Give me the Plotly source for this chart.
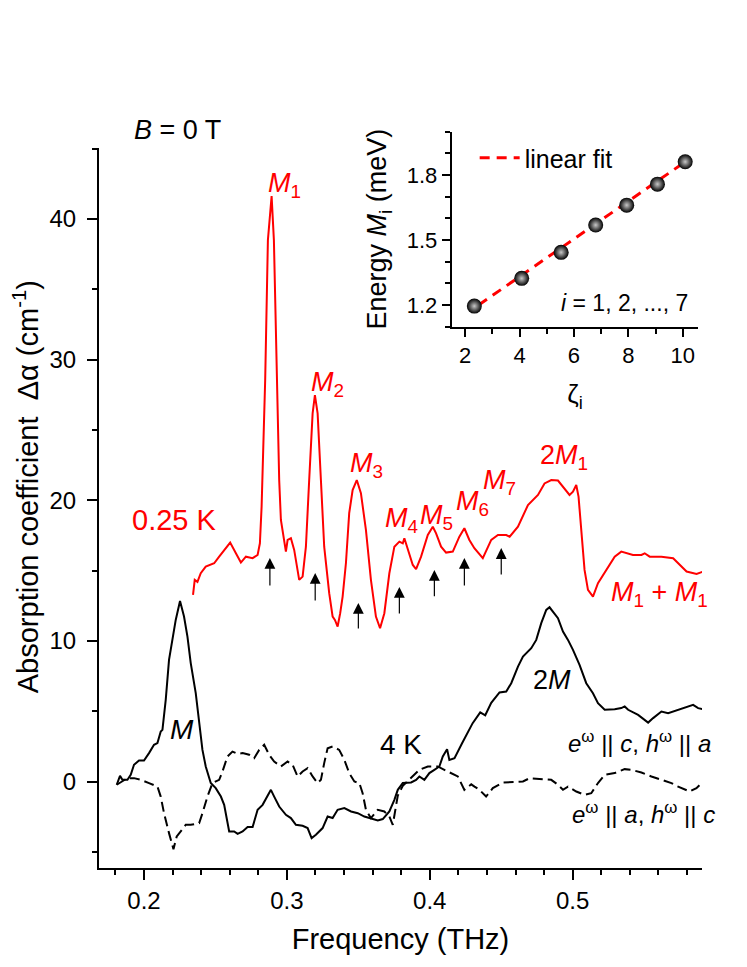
import plotly.graph_objects as go

# ---------------- data ----------------
red_x = [0.2343, 0.2355, 0.2374, 0.2397, 0.2432, 0.2491, 0.2526, 0.2561, 0.2603, 0.2643,
         0.2678, 0.2713, 0.2760, 0.2795, 0.2811, 0.2823, 0.2837, 0.2848, 0.2867, 0.2893,
         0.2909, 0.2928, 0.2946, 0.2958, 0.2981, 0.2993, 0.3005, 0.3028, 0.3051, 0.3063,
         0.3086, 0.3110, 0.3133, 0.3156, 0.3180, 0.3196, 0.3215, 0.3238, 0.3261, 0.3296,
         0.3320, 0.3336, 0.3355, 0.3373, 0.3390, 0.3413, 0.3436, 0.3460, 0.3489, 0.3518,
         0.3553, 0.3588, 0.3623, 0.3652, 0.3682, 0.3717, 0.3752, 0.3787, 0.3811, 0.3822,
         0.3846, 0.3881, 0.3904, 0.3939, 0.3986, 0.4021, 0.4044, 0.4079, 0.4114, 0.4161,
         0.4207, 0.4242, 0.4277, 0.4312, 0.4371, 0.4430, 0.4477, 0.4535, 0.4559, 0.4617,
         0.4687, 0.4757, 0.4803, 0.4850, 0.4897, 0.4943, 0.4978, 0.5002, 0.5025, 0.5041,
         0.5060, 0.5083, 0.5107, 0.5142, 0.5177, 0.5235, 0.5294, 0.5340, 0.5422, 0.5481,
         0.5504, 0.5539, 0.5621, 0.5703, 0.5762, 0.5797, 0.5867, 0.5913]
red_y = [13.27, 14.34, 14.20, 14.81, 15.28, 15.52, 15.99, 16.47, 16.99, 16.23,
         15.57, 15.99, 15.88, 16.11, 16.94, 19.55, 23.81, 28.55, 38.50, 41.63,
         38.50, 28.55, 21.44, 18.60, 16.94, 16.35, 17.18, 17.30, 16.47, 15.76,
         14.34, 14.57, 16.70, 21.44, 26.18, 27.48, 26.18, 21.44, 16.70, 13.39,
         11.73, 11.49, 11.02, 11.97, 13.15, 15.52, 19.08, 20.73, 21.44, 20.50,
         17.89, 14.34, 11.73, 10.90, 11.97, 14.81, 16.70, 17.06, 16.94, 17.30,
         16.47, 15.40, 15.10, 15.99, 17.53, 18.12, 17.65, 16.70, 16.28, 16.35,
         17.41, 18.01, 17.18, 16.59, 15.88, 17.18, 17.53, 17.53, 17.41, 18.12,
         19.66, 20.38, 21.20, 21.44, 21.40, 20.85, 20.38, 20.61, 21.09, 20.26,
         17.89, 15.05, 13.63, 13.15, 14.10, 15.05, 15.99, 16.35, 16.11, 16.11,
         16.23, 15.99, 15.99, 15.88, 15.28, 14.93, 14.76, 14.93]

ec_x = [0.1809, 0.1832, 0.1849, 0.1884, 0.1907, 0.1930, 0.1965, 0.2000, 0.2035, 0.2070,
        0.2094, 0.2117, 0.2129, 0.2152, 0.2175, 0.2199, 0.2222, 0.2252, 0.2280, 0.2304,
        0.2327, 0.2362, 0.2386, 0.2409, 0.2432, 0.2467, 0.2502, 0.2538, 0.2561, 0.2584,
        0.2596, 0.2631, 0.2655, 0.2690, 0.2725, 0.2760, 0.2795, 0.2830, 0.2865, 0.2888,
        0.2911, 0.2946, 0.2993, 0.3028, 0.3063, 0.3110, 0.3145, 0.3173, 0.3203, 0.3250,
        0.3285, 0.3320, 0.3355, 0.3402, 0.3449, 0.3496, 0.3542, 0.3577, 0.3636, 0.3671,
        0.3717, 0.3752, 0.3776, 0.3811, 0.3869, 0.3904, 0.3927, 0.3962, 0.3997, 0.4032,
        0.4067, 0.4091, 0.4121, 0.4137, 0.4173, 0.4225, 0.4300, 0.4353, 0.4388, 0.4430,
        0.4488, 0.4535, 0.4570, 0.4617, 0.4652, 0.4710, 0.4745, 0.4780, 0.4815, 0.4838,
        0.4873, 0.4897, 0.4932, 0.4967, 0.5002, 0.5048, 0.5095, 0.5142, 0.5177, 0.5224,
        0.5294, 0.5340, 0.5364, 0.5388, 0.5458, 0.5528, 0.5563, 0.5621, 0.5668, 0.5738,
        0.5785, 0.5843, 0.5878, 0.5913]
ec_y = [-0.23, 0.40, 0.12, 0.12, 0.48, 1.19, 1.49, 1.49, 2.02, 2.61,
        2.73, 3.55, 3.67, 5.81, 8.65, 10.07, 11.49, 12.84, 11.73, 10.31,
        8.42, 6.28, 4.15, 2.25, 1.07, -0.11, -0.47, -1.07, -1.66, -2.96,
        -3.55, -3.55, -3.72, -3.55, -3.24, -3.24, -2.01, -1.66, -0.95, -0.59,
        -1.07, -1.78, -2.37, -2.60, -3.08, -3.15, -3.31, -4.02, -3.79, -3.31,
        -2.49, -2.60, -2.01, -1.89, -2.13, -2.25, -2.49, -2.60, -2.77, -2.67,
        -2.13, -1.30, -0.59, -0.11, -0.07, 0.12, 0.36, 0.12, 0.60, 0.83,
        1.07, 1.78, 2.30, 1.54, 1.66, 2.70, 4.15, 4.92, 4.71, 5.60,
        6.33, 6.40, 6.99, 8.17, 8.88, 9.48, 10.07, 11.26, 12.20, 12.39,
        11.97, 11.61, 10.66, 10.07, 9.36, 8.29, 6.99, 6.28, 5.57, 5.10,
        5.14, 5.22, 5.34, 5.10, 4.74, 4.19, 4.51, 4.98, 4.86, 5.10,
        5.22, 5.45, 5.22, 5.14]

ea_x = [0.1809, 0.1884, 0.1930, 0.1977, 0.2035, 0.2094, 0.2117, 0.2140, 0.2175, 0.2206,
        0.2229, 0.2257, 0.2292, 0.2327, 0.2386, 0.2409, 0.2444, 0.2479, 0.2526, 0.2549,
        0.2584, 0.2619, 0.2655, 0.2690, 0.2736, 0.2771, 0.2806, 0.2841, 0.2876, 0.2911,
        0.2958, 0.3005, 0.3040, 0.3075, 0.3110, 0.3145, 0.3180, 0.3215, 0.3238, 0.3261,
        0.3285, 0.3320, 0.3366, 0.3402, 0.3436, 0.3472, 0.3507, 0.3530, 0.3553, 0.3588,
        0.3636, 0.3682, 0.3717, 0.3741, 0.3776, 0.3811, 0.3869, 0.3927, 0.3986, 0.4056,
        0.4102, 0.4149, 0.4196, 0.4242, 0.4290, 0.4313, 0.4348, 0.4394, 0.4441, 0.4512,
        0.4559, 0.4652, 0.4699, 0.4780, 0.4850, 0.4897, 0.4932, 0.4967, 0.5025, 0.5083,
        0.5130, 0.5177, 0.5224, 0.5294, 0.5364, 0.5411, 0.5481, 0.5551, 0.5621, 0.5691,
        0.5738, 0.5819, 0.5866, 0.5913]
ea_y = [-0.23, 0.24, 0.24, 0.12, -0.11, -0.36, -1.07, -2.25, -3.67, -4.81,
        -3.91, -3.55, -3.08, -3.08, -2.96, -2.25, -1.07, -0.11, 0.12, 0.71,
        1.78, 2.13, 1.97, 2.02, 1.90, 1.66, 2.25, 2.61, 1.90, 1.42,
        1.07, 1.42, 1.19, 0.36, 0.71, 0.95, 0.36, -0.11, 0.12, 1.31,
        2.37, 2.49, 2.25, 1.54, 0.60, 0.00, -0.11, -0.83, -2.01, -2.60,
        -2.01, -2.13, -2.49, -3.08, -1.00, -0.30, 0.30, 0.83, 1.07, 1.07,
        0.83, 0.60, 0.36, -0.59, -0.20, -0.36, -0.59, -1.07, -0.47, -0.07,
        -0.05, 0.00, 0.24, 0.17, 0.12, -0.23, -0.59, -0.36, -0.71, -0.95,
        -0.83, -0.11, 0.48, 0.60, 0.88, 0.83, 0.64, 0.36, 0.12, -0.11,
        -0.36, -0.71, -0.47, 0.00]

# arrows marking M_i positions (0.25 K spectrum)
arrow_x = [0.2881, 0.3198, 0.3500, 0.3787, 0.4032, 0.4242, 0.4500]
arrow_tip = [15.9, 14.83, 12.70, 13.84, 15.05, 15.9, 16.6]
arrow_tail = [13.84, 12.77, 10.78, 11.85, 13.06, 13.84, 14.62]

# inset: energy of M_i vs zeta_i
zeta = [2.34, 4.08, 5.53, 6.80, 7.94, 9.07, 10.09]
energy = [1.195, 1.323, 1.443, 1.569, 1.661, 1.758, 1.861]
fit_x = [2.5, 10.1]
fit_y = [1.200, 1.862]

x_ticks = [0.2, 0.3, 0.4, 0.5]
y_ticks = [0, 10, 20, 30, 40]
inset_x_ticks = [2, 4, 6, 8, 10]
inset_y_ticks = [1.2, 1.5, 1.8]

FONT = "Liberation Sans, Arial, Helvetica, sans-serif"
RED = "#ff0000"

fig = go.Figure()
fig.add_trace(go.Scatter(x=red_x, y=red_y, mode="lines",
                         line=dict(color=RED, width=2), showlegend=False))
fig.add_trace(go.Scatter(x=ec_x, y=ec_y, mode="lines",
                         line=dict(color="black", width=2), showlegend=False))
fig.add_trace(go.Scatter(x=ea_x, y=ea_y, mode="lines",
                         line=dict(color="black", width=2, dash="10px,5px"), showlegend=False))

# inset
fig.add_trace(go.Scatter(x=fit_x, y=fit_y, mode="lines", xaxis="x2", yaxis="y2",
                         name="linear fit",
                         line=dict(color=RED, width=3, dash="10px,7px"), showlegend=True))
fig.add_trace(go.Scatter(x=zeta, y=energy, mode="markers", xaxis="x2", yaxis="y2",
                         marker=dict(size=15, color="black",
                                     gradient=dict(type="radial", color="#c8c8c8"),
                                     line=dict(width=0)),
                         showlegend=False))

axis_common = dict(showline=True, linecolor="black", linewidth=2, ticks="outside",
                   tickcolor="black", tickwidth=2, showgrid=False, zeroline=False,
                   mirror=False, automargin=False)

# the page body adds an 8 px offset, margins compensate for it
fig.update_layout(
    template="none",
    width=747, height=967,
    margin=dict(l=91, r=53, t=122, b=107, autoexpand=False),
    paper_bgcolor="white", plot_bgcolor="white",
    font=dict(family=FONT, color="black", size=24),
    xaxis=dict(range=[0.1685, 0.5905], tickvals=x_ticks, ticklen=10, tickformat=".1f",
               minor=dict(dtick=0.02, tick0=0.2, ticklen=5, tickwidth=2, tickcolor="black",
                          ticks="outside"),
               tickfont=dict(size=24),
               title=dict(text="Frequency (THz)", font=dict(size=29), standoff=16),
               **axis_common),
    yaxis=dict(range=[-6.15, 45.05], domain=[0, 0.9756], tickvals=y_ticks, ticklen=10,
               minor=dict(dtick=5, tick0=0, ticklen=5, tickwidth=2, tickcolor="black",
                          ticks="outside"),
               tickfont=dict(size=24), ticklabelstandoff=6,
               **axis_common),
    xaxis2=dict(domain=[0.585, 0.9938], anchor="y2", range=[1.51, 10.57],
                tickvals=inset_x_ticks, ticklen=8,
                minor=dict(dtick=1, tick0=0, ticklen=5, tickwidth=2, tickcolor="black",
                           ticks="outside"),
                tickfont=dict(size=22),
                title=dict(text="ζ<sub>i</sub>", font=dict(size=26), standoff=18),
                **axis_common),
    yaxis2=dict(domain=[0.7335, 0.9977], anchor="x2", range=[1.1, 2.0],
                tickvals=inset_y_ticks, ticklen=8, tickformat=".1f",
                minor=dict(dtick=0.1, tick0=1.1, ticklen=5, tickwidth=2, tickcolor="black",
                           ticks="outside"),
                tickfont=dict(size=22),
                title=dict(text="Energy <i>M</i><sub>i</sub> (meV)", font=dict(size=27),
                           standoff=12),
                **axis_common),
    legend=dict(x=0.623, y=0.962, xanchor="left", yanchor="middle",
                bgcolor="rgba(0,0,0,0)", font=dict(size=25), borderwidth=0,
                itemwidth=40),
    showlegend=True,
)

# arrows
for ax_, tip, tail in zip(arrow_x, arrow_tip, arrow_tail):
    fig.add_annotation(x=ax_, y=tip, ax=ax_, ay=tail, xref="x", yref="y",
                       axref="x", ayref="y", text="", showarrow=True,
                       arrowhead=2, arrowsize=1.8, arrowwidth=1.2, arrowcolor="black",
                       standoff=0, startstandoff=0)

def label(text, x, y, color="black", size=27, xanchor="left", xref="x", yref="y",
          angle=0, yanchor="middle"):
    fig.add_annotation(x=x, y=y, xref=xref, yref=yref, text=text, showarrow=False,
                       xanchor=xanchor, yanchor=yanchor, textangle=angle,
                       font=dict(family=FONT, size=size, color=color))

# y-axis title (placed as text so it can sit slightly above centre, as in the original)
label("Absorption coefficient  Δα (cm<sup>-1</sup>)", -0.121, 0.516, size=29,
      xanchor="center", xref="paper", yref="paper", angle=-90)

label("<i>B</i> = 0 T", 0.0547, 1.0, size=27, xref="paper", yref="paper")
label("<i>M</i><sub>1</sub>", 0.2852, 42.4, RED)
label("<i>M</i><sub>2</sub>", 0.3155, 28.3, RED)
label("<i>M</i><sub>3</sub>", 0.3427, 22.5, RED)
label("<i>M</i><sub>4</sub>", 0.3672, 18.6, RED)
label("<i>M</i><sub>5</sub>", 0.3918, 18.8, RED)
label("<i>M</i><sub>6</sub>", 0.4170, 19.8, RED)
label("<i>M</i><sub>7</sub>", 0.4360, 21.3, RED)
label("2<i>M</i><sub>1</sub>", 0.4759, 23.1, RED)
label("<i>M</i><sub>1</sub> + <i>M</i><sub>1</sub>", 0.5257, 13.3, RED)
label("0.25 K", 0.1900, 18.6, RED, size=29)
label("<i>M</i>", 0.2167, 3.7, size=28)
label("4 K", 0.3637, 2.6, size=28)
label("2<i>M</i>", 0.4710, 7.2, size=27)
label("<i>e</i><sup>ω</sup> || <i>c</i>, <i>h</i><sup>ω</sup> || <i>a</i>", 1.0182, 0.1707,
      size=24, xanchor="right", xref="paper", yref="paper")
label("<i>e</i><sup>ω</sup> || <i>a</i>, <i>h</i><sup>ω</sup> || <i>c</i>", 1.0249, 0.0745,
      size=24, xanchor="right", xref="paper", yref="paper")
label("<i>i</i> = 1, 2, ..., 7", 10.27, 1.209, size=23, xanchor="right",
      xref="x2", yref="y2")

fig.write_html("out.html")
